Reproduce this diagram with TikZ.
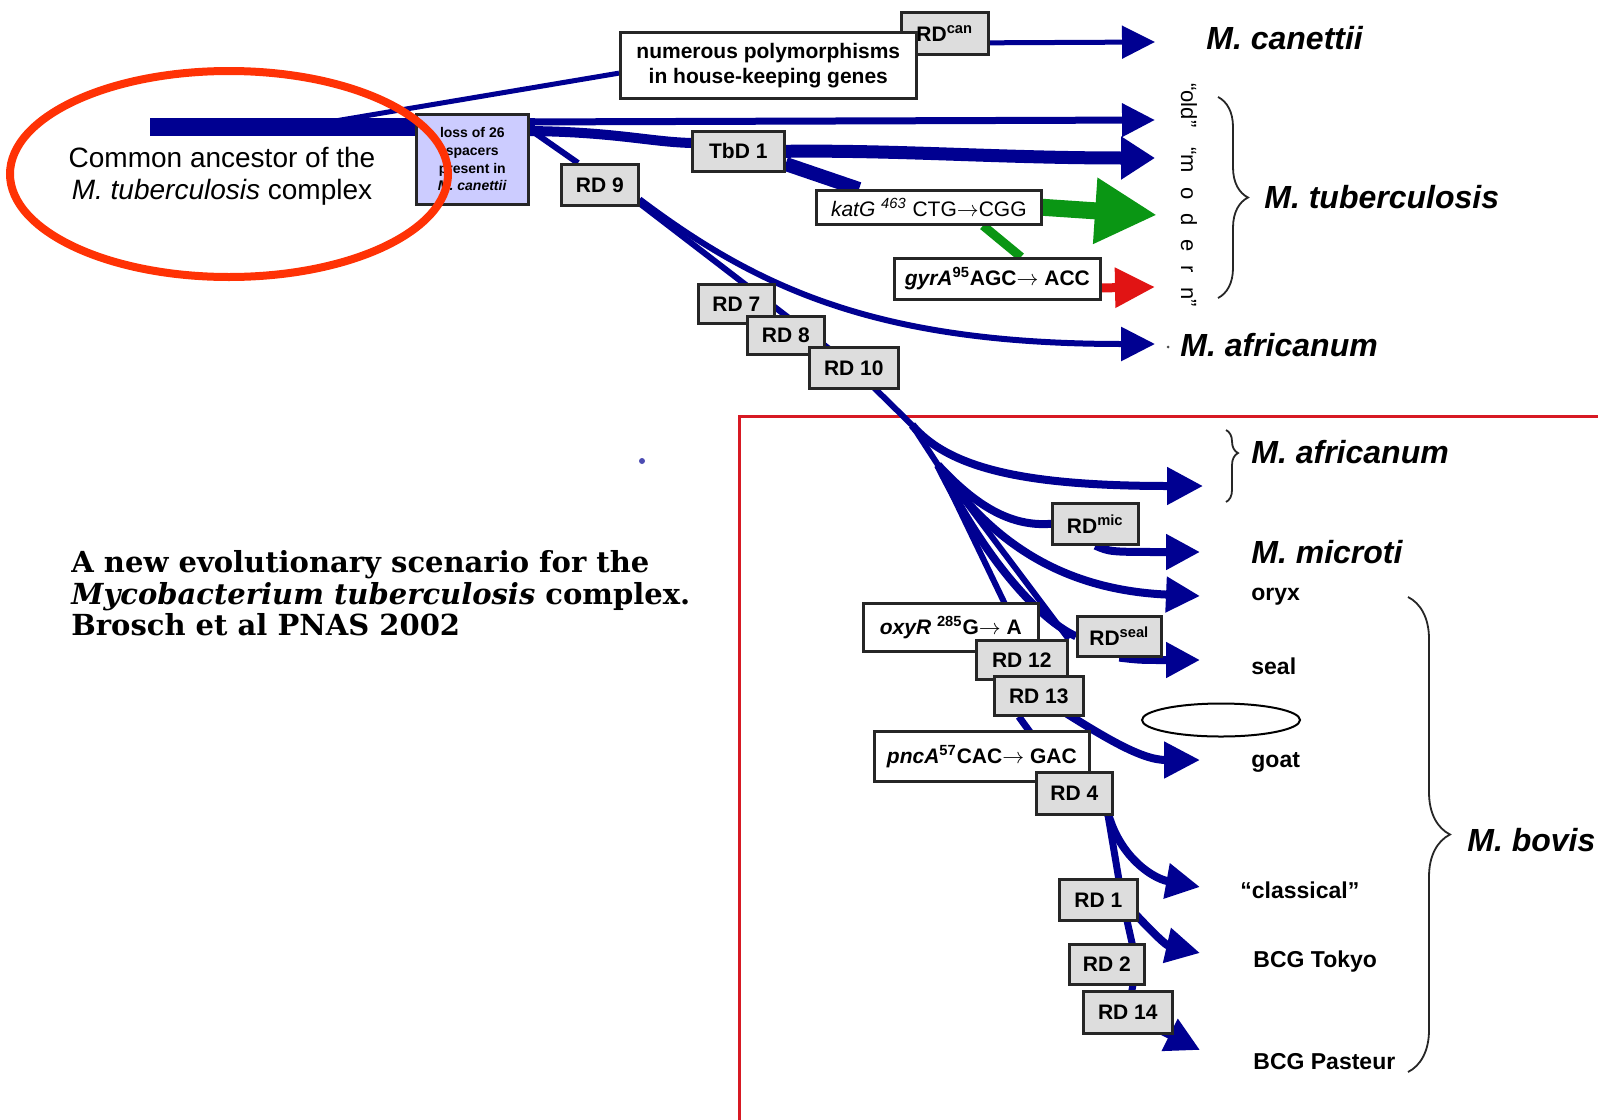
\documentclass[tikz,border=0pt]{standalone}
\usepackage{fontspec}
\setmainfont{Liberation Sans}
\newfontfamily\capfont{DejaVu Serif}
\usetikzlibrary{arrows.meta,backgrounds,decorations.pathreplacing}

\definecolor{navy}{RGB}{0,0,145}
\definecolor{leafgreen}{RGB}{10,150,20}
\definecolor{alertred}{RGB}{225,20,20}
\definecolor{framered}{RGB}{215,25,35}
\definecolor{ringred}{RGB}{255,50,5}
\definecolor{boxgray}{RGB}{221,221,221}
\definecolor{lavender}{RGB}{204,204,255}

\tikzset{every picture/.style={line width=0.75pt}}
\tikzset{
  rdbox/.style={draw=black!85, line width=1.3pt, fill=boxgray, anchor=north west, inner sep=0pt, font=\bfseries\fontsize{10.5}{12}\selectfont},
  mutbox/.style={rdbox, fill=white},
  lineage/.style={draw=navy, line width=#1},
  arr/.style 2 args={-{Triangle[length=#1,width=#2]}},
  species/.style={anchor=west, inner sep=0pt, font=\bfseries\itshape\fontsize{16}{18}\selectfont},
  host/.style={anchor=west, inner sep=0pt, font=\bfseries\fontsize{11.5}{13}\selectfont},
  curly/.style={draw=black!85, line width=0.9pt, decorate, decoration={brace, amplitude=#1}},
}

\begin{document}
\begin{tikzpicture}[x=0.5pt,y=0.5pt,yscale=-1,xscale=1]
\useasboundingbox (0,0) rectangle (1598,1119);

% Text Node
\node[rdbox, minimum width=43.5pt, minimum height=21pt] (rdcan) at (900,11) {RD\textsuperscript{can}};
% Text Node
\node[mutbox, minimum width=148pt, minimum height=33pt, align=center, font=\bfseries\fontsize{10.5}{12.5}\selectfont] (poly) at (619,31) {numerous polymorphisms\\in house-keeping genes};
% Text Node
\node[rdbox, fill=lavender, minimum width=56pt, minimum height=45pt, align=center, font=\bfseries\fontsize{7}{8.8}\selectfont] (loss) at (415,113) {loss of 26\\spacers\\present in\\\textit{M. canettii}};
% Text Node
\node[rdbox, minimum width=38.5pt, minimum height=20.5pt] (rd9) at (560,163) {RD 9};
% Text Node
\node[rdbox, minimum width=46pt, minimum height=20pt] (tbd1) at (691,130) {TbD 1};
% Text Node
\node[mutbox, minimum width=112.5pt, minimum height=17pt, font=\fontsize{10.5}{12}\selectfont] (katg) at (815,189) {\textit{katG} \textsuperscript{\textit{463}} CTG$\rightarrow$CGG};
% Text Node
\node[mutbox, minimum width=103pt, minimum height=20.5pt] (gyra) at (893,257) {\textit{gyrA}\textsuperscript{95}AGC$\rightarrow$ ACC};
% Text Node
\node[rdbox, minimum width=38pt, minimum height=19.5pt] (rd7) at (697,283) {RD 7};
% Text Node
\node[rdbox, minimum width=38.5pt, minimum height=19pt] (rd8) at (746,315) {RD 8};
% Text Node
\node[rdbox, minimum width=44.5pt, minimum height=20.5pt] (rd10) at (808,346) {RD 10};
% Text Node
\node[rdbox, minimum width=43pt, minimum height=20.5pt] (rdmic) at (1051,502) {RD\textsuperscript{mic}};
% Text Node
\node[rdbox, minimum width=42pt, minimum height=20pt] (rdseal) at (1076,615) {RD\textsuperscript{seal}};
% Text Node
\node[mutbox, minimum width=87.5pt, minimum height=24pt] (oxyr) at (862,602) {\textit{oxyR} \textsuperscript{285}G$\rightarrow$ A};
% Text Node
\node[rdbox, minimum width=45.5pt, minimum height=19.5pt] (rd12) at (975,639) {RD 12};
% Text Node
\node[rdbox, minimum width=44.5pt, minimum height=19.5pt] (rd13) at (993,675) {RD 13};
% Text Node
\node[mutbox, minimum width=107.5pt, minimum height=25pt] (pnca) at (873,730) {\textit{pncA}\textsuperscript{57}CAC$\rightarrow$ GAC};
% Text Node
\node[rdbox, minimum width=38pt, minimum height=21pt] (rd4) at (1035,771) {RD 4};
% Text Node
\node[rdbox, minimum width=39pt, minimum height=20.5pt] (rd1) at (1058,878) {RD 1};
% Text Node
\node[rdbox, minimum width=37.5pt, minimum height=20pt] (rd2) at (1068,943) {RD 2};
% Text Node
\node[rdbox, minimum width=44.5pt, minimum height=21pt] (rd14) at (1082,990) {RD 14};

%Branch points and arrow ends
\coordinate (root) at (150,127);
\coordinate (fork) at (535,127);
\coordinate (bcan) at (335,121);
\coordinate (bold) at (515,122);
\coordinate (btbd) at (520,131);
\coordinate (brd9) at (535,133);
\coordinate (sp1) at (912,425);
\coordinate (sp2) at (938,465);
\coordinate (tcan) at (1155,42);
\coordinate (told) at (1155,120);
\coordinate (ttbd) at (1155,158);
\coordinate (tkat) at (1157,215);
\coordinate (tgyr) at (1155,287);
\coordinate (tafr) at (1155,344);
\coordinate (tafr2) at (1203,486);
\coordinate (tmic) at (1200,552);
\coordinate (tory) at (1200,596);
\coordinate (tseal) at (1200,660);
\coordinate (tgoat) at (1200,760);
\coordinate (tcla) at (1200,887);
\coordinate (ttok) at (1200,953);
\coordinate (tpas) at (1200,1050);

\begin{pgfonlayer}{background}
%Shape: Rectangle
\draw[draw=framered, line width=1.5pt] (739,416) rectangle (1660,1170);
%Straight Lines
\draw[lineage=9pt] (root) -- (fork);
\draw[lineage=2.5pt] (bcan) -- (poly.183);
\draw[lineage=2.5pt, arr={16.5pt}{16pt}] (rdcan.-12) -- (tcan);
\draw[lineage=3.5pt, arr={16.5pt}{16pt}] (bold) -- (told);
%Curve Lines
\draw[lineage=5pt] (btbd) .. controls (610,131) and (650,142) .. (tbd1.170);
\draw[lineage=6.5pt, arr={17pt}{20.5pt}] (tbd1.east) .. controls (900,150) and (1000,158) .. (ttbd);
\draw[lineage=7pt] (tbd1.-15) -- ([xshift=22pt]katg.north west);
%Straight Lines
\draw[draw=leafgreen, line width=8.5pt, arr={31pt}{31pt}] (katg.east) -- (tkat);
\draw[draw=leafgreen, line width=4.5pt] ([xshift=84pt]katg.south west) -- ([xshift=64pt]gyra.north west);
\draw[draw=alertred, line width=4.5pt, arr={20pt}{19pt}] (gyra.-5) -- (tgyr);
\draw[lineage=3pt] (brd9) -- ([xshift=9pt]rd9.north west);
%Curve Lines
\draw[lineage=3pt, arr={17pt}{16.5pt}] (rd9.-20) .. controls (760,290) and (880,344) .. (tafr);
\draw[lineage=3pt] (rd9.-25) -- (rd10.center) -- (sp1) -- (sp2) -- (rd12.north);
\draw[lineage=3pt] (sp2) -- (rd12.north east);
\draw[lineage=4pt, arr={18pt}{18pt}] (sp1) .. controls (950,470) and (1030,486) .. (tafr2);
\draw[lineage=4pt] (sp2) .. controls (975,505) and (1010,527) .. (rdmic.west);
\draw[lineage=4pt, arr={17pt}{17pt}] (rdmic.south) .. controls (1110,552) .. (tmic);
\draw[lineage=4pt, arr={17pt}{17pt}] (sp2) .. controls (990,540) and (1060,590) .. (tory);
\draw[lineage=4pt] (sp2) .. controls (985,560) and (1040,620) .. (rdseal.west);
\draw[lineage=4pt, arr={17pt}{17pt}] (rdseal.south) .. controls (1140,660) .. (tseal);
\draw[lineage=3pt] (rd12.center) -- (rd13.center);
\draw[lineage=4pt, arr={18pt}{17.5pt}] (rd13.center) .. controls (1100,735) and (1140,760) .. (tgoat);
\draw[lineage=3.5pt] ([xshift=-10pt]rd13.south) -- (rd4.center);
\draw[lineage=3.5pt] ([xshift=15pt]rd4.center) -- ([xshift=12pt]rd1.center) -- ([xshift=15pt]rd2.center) -- (rd14.center);
\draw[lineage=4pt, arr={17pt}{17pt}] ([xshift=15pt]rd4.center) .. controls (1110,850) and (1150,878) .. (tcla);
\draw[lineage=4pt, arr={17pt}{17pt}] ([xshift=12pt]rd1.center) .. controls (1145,925) and (1165,945) .. (ttok);
\draw[lineage=4pt, arr={17pt}{17pt}] (rd14.center) .. controls (1160,1030) .. (tpas);
\end{pgfonlayer}

%Shape: Braces
\draw[curly=15pt] (1218,97) -- (1218,298);
\draw[curly=6pt, decoration={aspect=0.32}] (1226,430) -- (1226,502);
\draw[curly=21pt] (1408,597) -- (1408,1072);

% Text Node
\node[species] (lcan) at (1206,38) {M. canettii};
% Text Node
\node[species] (ltb) at (1264,197) {M. tuberculosis};
% Text Node
\node[species] (lafr) at (1180,345) {M. africanum};
\fill[black!70] (1168,347) circle [radius=1.5];
% Text Node
\node[species] (lafr2) at (1251,452) {M. africanum};
% Text Node
\node[species] (lmic) at (1251,552) {M. microti};
% Text Node
\node[species] (lbov) at (1467,840) {M. bovis};
% Text Node
\node[host] (lory) at (1251,597) {oryx};
% Text Node
\node[host] (lseal) at (1251,666) {seal};
% Text Node
\node[host] (lgoat) at (1251,762) {goat};
% Text Node
\node[host] (lcla) at (1240,890) {“classical”};
% Text Node
\node[host] (ltok) at (1253,962) {BCG Tokyo};
% Text Node
\node[host] (lpas) at (1253,1062) {BCG Pasteur};
% Text Node
\node[rotate=-90, inner sep=0pt, font=\fontsize{11}{12}\selectfont] (era) at (1189,195) {“old”\hspace{10pt}“m\hspace{7pt}o\hspace{7pt}d\hspace{7pt}e\hspace{7pt}r\hspace{7pt}n”};
% Text Node
\node[align=center, inner sep=0pt, font=\fontsize{14}{16}\selectfont] (ancestor) at (222,176) {Common ancestor of the\\\textit{M. tuberculosis} complex};
% Text Node
\node[anchor=north west, align=left, inner sep=0pt, font=\capfont\bfseries\fontsize{14.5}{15.8}\selectfont] (caption) at (71,550) {A new evolutionary scenario for the\\\textit{Mycobacterium tuberculosis} complex.\\Brosch et al PNAS 2002};

%Shape: Ellipse
\draw[draw=ringred, line width=4pt] (229,174) ellipse [x radius=219, y radius=103];
%Shape: Ellipse
\draw[line width=1pt] (1221,720) ellipse [x radius=79, y radius=16.5];
%Shape: Circle
\fill[navy!70] (642,461) circle [radius=3];

\end{tikzpicture}
\end{document}
